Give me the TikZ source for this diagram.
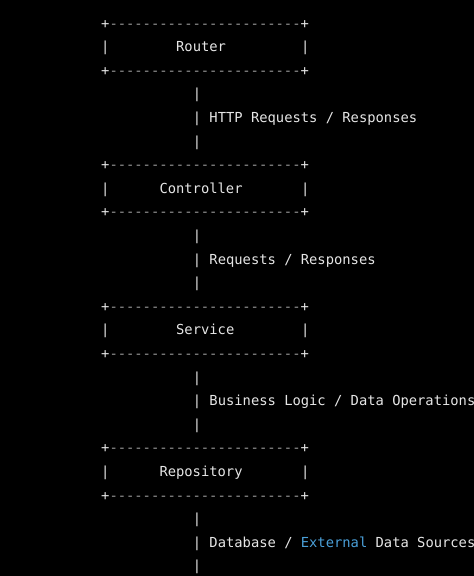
\documentclass[tikz,border=0pt]{standalone}
\usepackage{fontspec}
\setmonofont{DejaVu Sans Mono}
\usetikzlibrary{positioning}

\definecolor{termbg}{HTML}{000000}
\definecolor{termfg}{HTML}{E6E6E6}
\definecolor{termdash}{HTML}{9A9A9A}
\definecolor{termblue}{HTML}{4A9FD8}
\newcommand{\dashrow}{+\textcolor{termdash}{-----------------------}+}

\begin{document}
\begin{tikzpicture}[x=8.33pt,y=-23.6pt,
    every node/.style={anchor=base west,inner sep=0pt,yshift=-5pt,
      text=termfg,font=\ttfamily\fontsize{13.8}{16}\selectfont}]
  \path[fill=termbg,use as bounding box] (-101pt,23pt) rectangle (373pt,-553pt);
  % boxes
  \foreach \name/\lbl/\c [count=\k from 0] in
      {router/Router/9,controller/Controller/7,service/Service/9,repository/Repository/7} {
    \node (\name_t) at (0,6*\k)    {\dashrow};
    \node (\name_l) at (0,6*\k+1)  {|};
    \node (\name)   at (\c,6*\k+1) {\lbl};
    \node (\name_r) at (24,6*\k+1) {|};
    \node (\name_b) at (0,6*\k+2)  {\dashrow};
  }
  % links between boxes
  \foreach \lbl [count=\k from 0] in
      {{HTTP Requests / Responses},{Requests / Responses},{Business Logic / Data Operations},
       {Database / \textcolor{termblue}{External} Data Sources}} {
    \node (c\k_a) at (11,6*\k+3) {|};
    \node (c\k_b) at (11,6*\k+4) {|};
    \node (l\k)   at (13,6*\k+4) {\lbl};
    \node (c\k_c) at (11,6*\k+5) {|};
  }
\end{tikzpicture}
\end{document}
